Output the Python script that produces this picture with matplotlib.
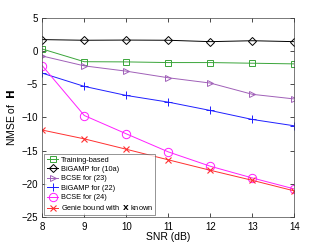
import matplotlib
matplotlib.use("Agg")
import matplotlib.pyplot as plt

snr = [8, 9, 10, 11, 12, 13, 14]
training = [0.35, -1.57, -1.6, -1.7, -1.7, -1.8, -1.9]
bigamp_10a = [1.77, 1.67, 1.7, 1.67, 1.46, 1.6, 1.46]
bcse_23 = [-0.71, -2.2, -3.0, -4.0, -4.8, -6.5, -7.2]
bigamp_22 = [-3.3, -5.3, -6.67, -7.68, -8.94, -10.3, -11.26]
bcse_24 = [-2.17, -9.7, -12.47, -15.2, -17.37, -19.14, -20.8]
genie = [-11.9, -13.23, -14.8, -16.4, -17.98, -19.5, -21.1]

plt.rcParams['font.family'] = ['Liberation Sans', 'DejaVu Sans']
plt.rcParams['mathtext.fontset'] = 'dejavusans'

fig = plt.figure(figsize=(3.25, 2.43), dpi=100)
ax = fig.add_axes([0.130, 0.108, 0.776, 0.817])

lw = 0.7
ax.plot(snr, training, color='#3aa53a', marker='s', ms=4, mfc='none', mew=0.7, lw=lw, label='Training-based')
ax.plot(snr, bigamp_10a, color='black', marker='D', ms=4, mfc='none', mew=0.7, lw=lw, label='BiGAMP for (10a)')
ax.plot(snr, bcse_23, color='#a060b8', marker='>', ms=5, mfc='none', mew=0.7, lw=lw, label='BCSE for (23)')
ax.plot(snr, bigamp_22, color='#1f1fff', marker='+', ms=6, mew=0.7, lw=lw, label='BiGAMP for (22)')
ax.plot(snr, bcse_24, color='#ff1fff', marker='o', ms=6, mfc='none', mew=0.7, lw=lw, label='BCSE for (24)')
ax.plot(snr, genie, color='#ff3030', marker='x', ms=4, mew=0.8, lw=lw, label=r'Genie bound with  $\mathbf{X}$ known')

ax.set_xlim(8, 14)
ax.set_ylim(-25, 5)
ax.set_xticks(snr)
ax.set_yticks([-25, -20, -15, -10, -5, 0, 5])
ax.tick_params(direction='in', labelsize=7, length=3, width=0.5, top=True, right=True)
ax.tick_params(axis='x', pad=3.5)
ax.tick_params(axis='y', pad=3)
for s in ax.spines.values():
    s.set_linewidth(0.5)
    s.set_color('#444444')
ax.set_xlabel('SNR (dB)', fontsize=7.5, labelpad=0.5)
ax.set_ylabel(r'NMSE of  $\mathbf{H}$', fontsize=7.5, labelpad=3)

leg = ax.legend(loc='lower left', fontsize=5.3, frameon=True, fancybox=False,
                borderpad=0.3, labelspacing=0.3, handlelength=1.6, handletextpad=0.3,
                borderaxespad=0.3)
leg.get_frame().set_edgecolor('#444444')
leg.get_frame().set_linewidth(0.5)

fig.savefig('out.png', dpi=100)
